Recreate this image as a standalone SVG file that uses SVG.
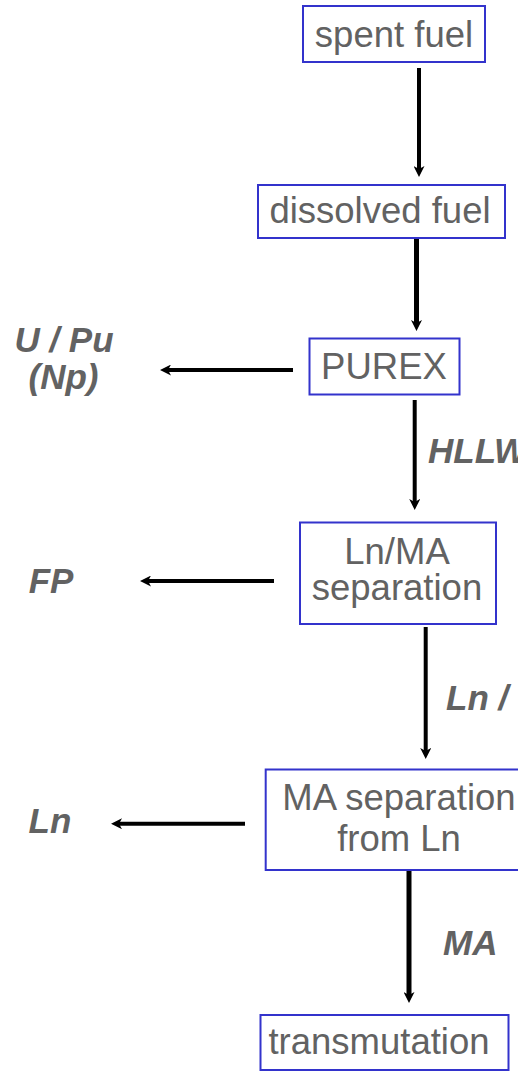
<svg xmlns="http://www.w3.org/2000/svg" width="518" height="1072" viewBox="0 0 518 1072">
<style>
.box{fill:#fff;stroke:#3333cc;stroke-width:2}
.t{font-family:"Liberation Sans",Arial,sans-serif;font-size:36.5px;fill:#626262;text-anchor:middle}
.l{font-family:"Liberation Sans",Arial,sans-serif;font-size:35px;font-weight:bold;font-style:italic;fill:#626262}
.m{text-anchor:middle}
.c{stroke:#000;stroke-width:4;fill:none;marker-end:url(#ah)}
</style>
<defs>
<marker id="ah" markerUnits="userSpaceOnUse" viewBox="0 0 11 11" refX="3" refY="5.5" markerWidth="11" markerHeight="11" orient="auto">
<path d="M0,0 L11,5.5 L0,11 L3,5.5 z" fill="#000"/>
</marker>
</defs>
<rect width="518" height="1072" fill="#fff"/>
<g id="connectors">
<line class="c" x1="419" y1="68" x2="419" y2="169"/>
<line class="c" x1="416.5" y1="234" x2="416.5" y2="323" style="stroke-width:5"/>
<line class="c" x1="293" y1="370" x2="168" y2="370"/>
<line class="c" x1="414.7" y1="400" x2="414.7" y2="502"/>
<line class="c" x1="274" y1="581" x2="148" y2="581"/>
<line class="c" x1="425.7" y1="627" x2="425.7" y2="751"/>
<line class="c" x1="245" y1="823.7" x2="119" y2="823.7"/>
<line class="c" x1="409" y1="870" x2="409" y2="995" style="stroke-width:5"/>
</g>
<g id="spent-fuel"><rect class="box" x="303" y="6" width="182" height="56"/><text class="t" x="394" y="47">spent fuel</text></g>
<g id="dissolved-fuel"><rect class="box" x="258" y="185" width="247" height="53"/><text class="t" x="380" y="223">dissolved fuel</text></g>
<g id="purex"><rect class="box" x="309.5" y="338.5" width="150" height="56"/><text class="t" x="384" y="379">PUREX</text></g>
<g id="ln-ma-separation"><rect class="box" x="300" y="522.5" width="196" height="101.5"/><text class="t" x="397" y="564">Ln/MA</text><text class="t" x="397" y="600">separation</text></g>
<g id="ma-separation"><rect class="box" x="265.7" y="769.5" width="268" height="100.5"/><text class="t" x="399" y="810">MA separation</text><text class="t" x="399" y="851">from Ln</text></g>
<g id="transmutation"><rect class="box" x="260.5" y="1015" width="248" height="55"/><text class="t" x="379" y="1054">transmutation</text></g>
<g id="labels">
<text class="l m" x="64" y="351.5">U / Pu</text>
<text class="l m" x="63.5" y="389">(Np)</text>
<text class="l m" x="51" y="593">FP</text>
<text class="l m" x="50" y="833">Ln</text>
<text class="l" x="428" y="463">HLLW</text>
<text class="l" x="446" y="710">Ln /</text>
<text class="l" x="443" y="955">MA</text>
</g>
</svg>
